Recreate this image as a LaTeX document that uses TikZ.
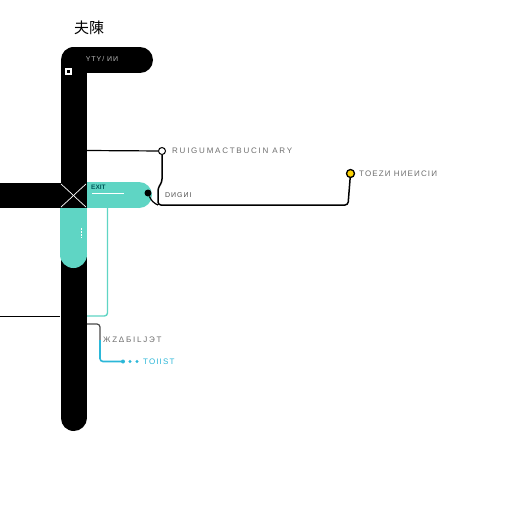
\documentclass[tikz,border=0pt]{standalone}
\usepackage{fontspec}
\setmainfont{Liberation Sans}
\newfontfamily\cjk{Noto Sans CJK SC}
\newfontfamily\labfont[LetterSpace=14]{Liberation Sans}
\newfontfamily\widefont[LetterSpace=22]{Liberation Sans}
\definecolor{tealc}{HTML}{5FD5C4}
\definecolor{bluec}{HTML}{2BB7D8}
\definecolor{labg}{HTML}{6E6E6E}
\begin{document}
\begin{tikzpicture}[x=1pt,y=-1pt,
  lab/.style={font=\labfont\fontsize{8}{9}\selectfont, text=labg, inner sep=0pt, anchor=west},
  widelab/.style={font=\widefont\fontsize{8}{9}\selectfont, text=labg, inner sep=0pt, anchor=west},
  thinl/.style={line width=1.2pt, black},
  tealline/.style={line width=1.4pt, tealc}]
\useasboundingbox (0,0) rectangle (512,512);
\fill[white] (0,0) rectangle (512,512);
% title
\node[font=\cjk\fontsize{15}{17}\selectfont, inner sep=0pt] (title) at (89,28) {夫陳};
% black frame
\coordinate (bb) at (73.5,418);
\coordinate (bc) at (73.5,60);
\coordinate (br) at (140,60);
\draw[line width=26pt, line cap=round, line join=round] (bb) -- (bc) -- (br);
\coordinate (lh) at (0,195.5);
\coordinate (lx) at (74,195.5);
\draw[line width=25pt] (lh) -- (lx);
% crossing marks
\draw[white, line width=0.7pt] (61,184) .. controls (70,192) and (77,199) .. (86,207);
\draw[white, line width=0.7pt] (61,207) .. controls (70,199) and (77,192) .. (86,184);
% icon and top label
\fill[white] (64.5,67.5) rectangle (72,75);
\fill[black] (66.5,70) rectangle (70,73);
\node[font=\labfont\fontsize{7}{8}\selectfont, text=gray!50, inner sep=0pt] (toplab) at (102,59) {YTY/ ИИ};
% teal horizontal pill
\fill[tealc] (87,182) rectangle (139,208);
\fill[tealc] (139,195) circle (13);
\node[font=\bfseries\fontsize{6.5}{7}\selectfont, text=teal!70!black, inner sep=0pt, anchor=west] (exit) at (91,187) {EXIT};
\coordinate (wl1) at (92,193.5);
\coordinate (wl2) at (124,193.5);
\draw[white, line width=0.8pt] (wl1) -- (wl2);
% teal vertical pill
\fill[tealc] (60,208) rectangle (87,254.5);
\fill[tealc] (73.5,254.5) circle (13.5);
\draw[white, line width=1pt, dash pattern=on 1.5pt off 1.5pt] (81,228) -- (81,238);
% thin teal line
\coordinate (t1) at (107.5,208);
\coordinate (t2) at (107.5,316);
\coordinate (t3) at (87,316);
\draw[tealline, rounded corners=3pt] (t1) -- (t2) -- (t3);
% left thin line
\coordinate (ll1) at (0,316.5);
\coordinate (ll2) at (60,316.5);
\draw[thinl] (ll1) -- (ll2);
% lower branch
\coordinate (d1) at (87,324);
\coordinate (d2) at (100,324);
\coordinate (d3) at (100,340);
\coordinate (d4) at (100,361.5);
\coordinate (d5) at (123,361.5);
\draw[line width=1.2pt, black!70, rounded corners=3pt] (d1) -- (d2) -- (d3);
\draw[line width=1.6pt, bluec, rounded corners=3pt] (d3) -- (d4) -- (d5);
\node[widelab] (lowlab) at (103,340) {ЖZΔБILJЭT};
\fill[bluec] (123,361.5) circle (2);
\fill[bluec] (130,361.5) circle (1.6);
\fill[bluec] (137,361.5) circle (1.6);
\node[lab, text=bluec] (bluelab) at (143,361.5) {TOIIST};
% upper branch
\node[circle, draw=black, line width=1pt, fill=white, minimum size=7pt, inner sep=0pt] (oc) at (162,151) {};
\coordinate (u1) at (87,150.5);
\draw[thinl] (u1) -- (oc);
\node[widelab] (uplab) at (172,151) {RUIGUMACTBUCIN ARY};
\coordinate (m1) at (162,182);
\coordinate (m2) at (158,188);
\coordinate (m3) at (158,205);
\coordinate (m4) at (348,205);
\node[circle, draw=black, line width=1.3pt, fill=yellow!70!orange, minimum size=8pt, inner sep=0pt] (yd) at (350.5,173.5) {};
\draw[line width=1.5pt, rounded corners=3pt] (oc) -- (m1) -- (m2) -- (m3) -- (m4) -- (yd);
\node[circle, fill=black, minimum size=7pt, inner sep=0pt] (bd) at (148,193) {};
\draw[line width=1.2pt, rounded corners=4pt] (bd) -- (152,202) -- (m3);
\node[lab, text=black!70, font=\labfont\fontsize{7}{8}\selectfont] (dlab) at (165,195) {DИGИI};
\node[lab] (ylab) at (359,174) {TOEZИ HИEИCIИ};
\end{tikzpicture}
\end{document}
